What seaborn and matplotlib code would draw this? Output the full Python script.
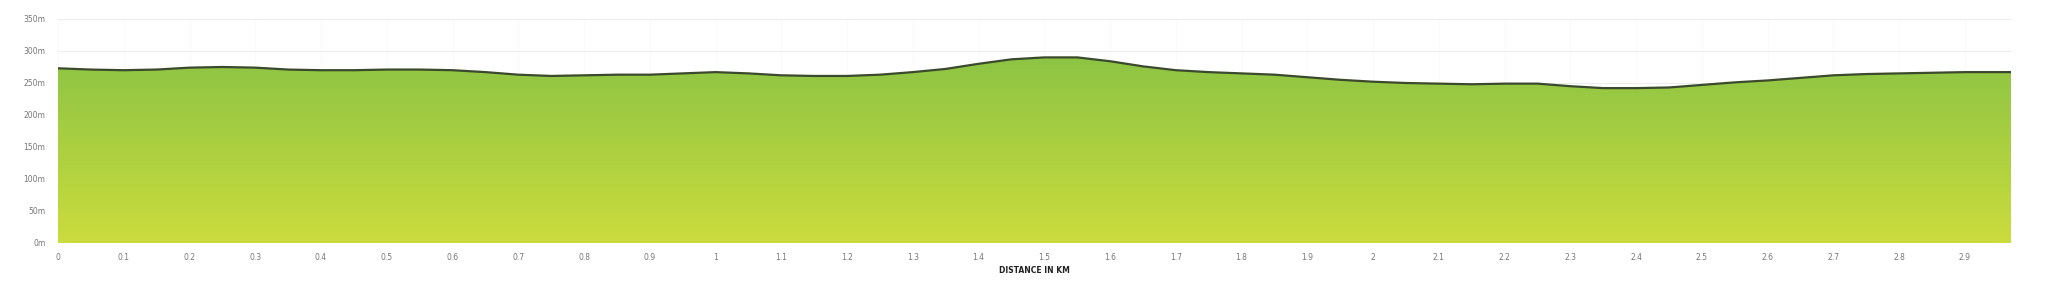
import numpy as np
import pandas as pd
import matplotlib
matplotlib.use("Agg")
import matplotlib.pyplot as plt
import seaborn as sns
from matplotlib.colors import LinearSegmentedColormap
from matplotlib.ticker import FuncFormatter, MultipleLocator

# ---- data ----
distance_km = [0.00, 0.05, 0.10, 0.15, 0.20, 0.25, 0.30, 0.35, 0.40, 0.45,
               0.50, 0.55, 0.60, 0.65, 0.70, 0.75, 0.80, 0.85, 0.90, 0.95,
               1.00, 1.05, 1.10, 1.15, 1.20, 1.25, 1.30, 1.35, 1.40, 1.45,
               1.50, 1.55, 1.60, 1.65, 1.70, 1.75, 1.80, 1.85, 1.90, 1.95,
               2.00, 2.05, 2.10, 2.15, 2.20, 2.25, 2.30, 2.35, 2.40, 2.45,
               2.50, 2.55, 2.60, 2.65, 2.70, 2.75, 2.80, 2.85, 2.90, 2.97]
elevation_m = [273, 271, 270, 271, 274, 275, 274, 271, 270, 270,
               271, 271, 270, 267, 263, 261, 262, 263, 263, 265,
               267, 265, 262, 261, 261, 263, 267, 272, 280, 287,
               290, 290, 284, 276, 270, 267, 265, 263, 259, 255,
               252, 250, 249, 248, 249, 249, 245, 242, 242, 243,
               247, 251, 254, 258, 262, 264, 265, 266, 267, 267]
y_ticks = [0, 50, 100, 150, 200, 250, 300, 350]
x_label = "DISTANCE IN KM"

df = pd.DataFrame({"km": distance_km, "m": elevation_m})

sns.set_theme(style="white")
plt.rcParams["font.family"] = ["DejaVu Sans"]

fig = plt.figure(figsize=(20.56, 2.98), dpi=100)
ax = fig.add_axes([58 / 2056, 55 / 298, (2011 - 58) / 2056, (243 - 19) / 298])

xmax = distance_km[-1]
ax.set_xlim(0, xmax)
ax.set_ylim(0, 350)

# gradient fill under the profile
poly = ax.fill_between(df["km"], df["m"], 0, color="none", lw=0)
cmap = LinearSegmentedColormap.from_list("g", ["#cbdc3d", "#8dc444"])
grad = np.linspace(0, 1, 256).reshape(-1, 1)
im = ax.imshow(grad, cmap=cmap, origin="lower", aspect="auto",
               extent=[0, xmax, 0, max(elevation_m)], zorder=1)
path = poly.get_paths()[0]
im.set_clip_path(path, transform=ax.transData)

sns.lineplot(data=df, x="km", y="m", ax=ax, color="#3b4a2c", lw=1.6, zorder=3,
             solid_joinstyle="round", solid_capstyle="round")

ax.set_yticks(y_ticks)
ax.yaxis.set_major_formatter(FuncFormatter(lambda v, p: f"{int(v)}m"))
ax.xaxis.set_major_locator(MultipleLocator(0.1))
ax.xaxis.set_major_formatter(FuncFormatter(lambda v, p: f"{round(v, 1):g}"))

ax.grid(axis="y", color="#ededed", lw=0.8, zorder=0)
ax.grid(axis="x", color="#fafafa", lw=0.8, zorder=0)
ax.set_axisbelow(True)
for s in ax.spines.values():
    s.set_visible(False)

ax.tick_params(axis="both", labelsize=5.5, labelcolor="#777777", length=3,
               color="#eeeeee", width=0.6, pad=4)
ax.tick_params(axis="y", pad=6)
ax.set_xlabel(x_label, fontsize=5.5, fontweight="bold", color="#222222", labelpad=3)
ax.set_ylabel("")

fig.savefig("out.png", dpi=100, facecolor="white")
